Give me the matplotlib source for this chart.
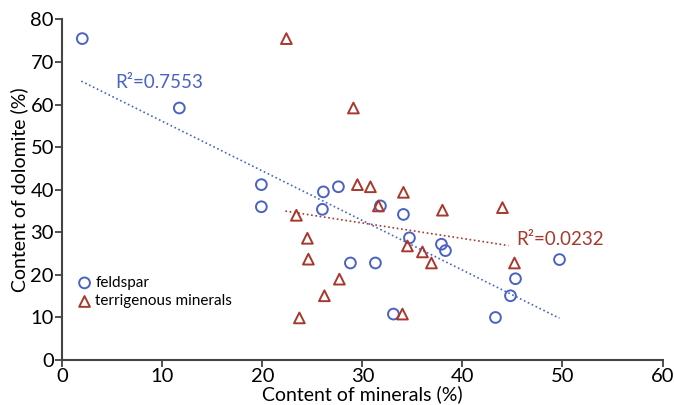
import numpy as np
import matplotlib.pyplot as plt

plt.rcParams['font.family'] = ['Lato', 'DejaVu Sans']

# feldspar content vs dolomite content
feldspar_x = [2.0, 11.7, 19.9, 19.9, 26.1, 26.0, 27.6, 31.8, 34.1, 34.7,
              37.9, 38.3, 28.8, 31.3, 33.1, 43.3, 45.3, 44.8, 49.7]
feldspar_y = [75.5, 59.2, 41.2, 36.0, 39.5, 35.4, 40.7, 36.2, 34.2, 28.7,
              27.2, 25.7, 22.8, 22.8, 10.8, 10.0, 19.1, 15.1, 23.6]

# terrigenous minerals content vs dolomite content
terr_x = [22.4, 29.1, 29.5, 30.8, 34.1, 31.6, 38.0, 44.0, 23.4, 24.5,
          24.6, 34.5, 36.0, 36.9, 45.2, 27.7, 26.2, 23.7, 34.0]
terr_y = [75.5, 59.2, 41.2, 40.7, 39.4, 36.2, 35.2, 35.8, 34.0, 28.6,
          23.7, 26.8, 25.4, 22.8, 22.8, 19.0, 15.1, 9.9, 10.8]

r2_feldspar = 0.7553
r2_terr = 0.0232

blue = '#4a62c4'
red = '#a8382c'

fig = plt.figure(figsize=(6.74, 4.05), dpi=100)
ax = fig.add_axes([0.0924, 0.111, 0.8906, 0.841])

ax.scatter(feldspar_x, feldspar_y, s=60, facecolors='none', edgecolors=blue,
           linewidths=1.4, marker='o', label='feldspar', zorder=3)
ax.scatter(terr_x, terr_y, s=60, facecolors='none', edgecolors=red,
           linewidths=1.4, marker='^', label='terrigenous minerals', zorder=3)

# linear trend lines
kf, bf = np.polyfit(feldspar_x, feldspar_y, 1)
xf = np.array([min(feldspar_x) - 0.1, max(feldspar_x)])
ax.plot(xf, kf * xf + bf, color=blue, lw=1.2, ls=(0, (1, 1.6)), zorder=2)

kt, bt = np.polyfit(terr_x, terr_y, 1)
xt = np.array([22.3, 44.6])
ax.plot(xt, kt * xt + bt, color=red, lw=1.2, ls=(0, (1, 1.6)), zorder=2)

ax.text(5.3, 65.1, f'R\u00b2={r2_feldspar}', color=blue, fontsize=13.5,
        va='center', ha='left')
ax.text(45.4, 28.2, f'R\u00b2={r2_terr}', color=red, fontsize=13.5,
        va='center', ha='left')

ax.set_xlim(0, 60)
ax.set_ylim(0, 80)
ax.set_xticks(range(0, 61, 10))
ax.set_yticks(range(0, 81, 10))
ax.set_xlabel('Content of minerals (%)', fontsize=14, labelpad=0)
ax.set_ylabel('Content of dolomite (%)', fontsize=14, labelpad=2)
ax.tick_params(labelsize=14.5, length=5, width=1.2, color='#333333', pad=1)

for side in ['top', 'right']:
    ax.spines[side].set_visible(False)
for side in ['left', 'bottom']:
    ax.spines[side].set_linewidth(1.5)
    ax.spines[side].set_color('#444444')

ax.legend(loc='lower left', bbox_to_anchor=(0.004, 0.12), frameon=False,
          fontsize=11, handletextpad=0.1, borderpad=0.2, labelspacing=0.3,
          handlelength=1.2)

fig.savefig('out.png', dpi=100)
